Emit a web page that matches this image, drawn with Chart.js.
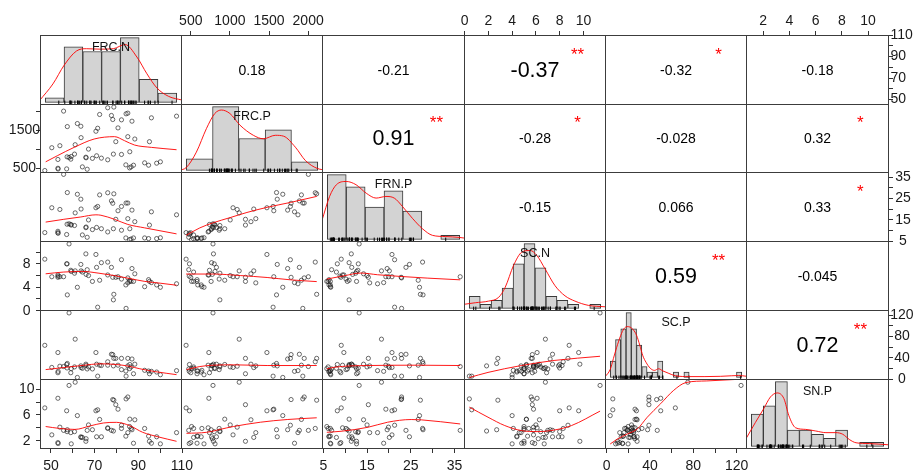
<!DOCTYPE html>
<html><head><meta charset="utf-8">
<script src="https://cdn.jsdelivr.net/npm/chart.js@4.4.1/dist/chart.umd.min.js"></script>
<style>
html,body{margin:0;padding:0;background:#fff;overflow:hidden;}
#wrap{position:relative;width:914px;height:471px;overflow:hidden;background:#fff;}
#wrap canvas{position:absolute;}
</style></head><body><div id="wrap"></div>
<script>
// ================= DATA =================
const VAR_NAMES = ['FRC.N','FRC.P','FRN.P','SC.N','SC.P','SN.P'];

const FRC_N = [47.2,50.4,53.2,53.2,53.3,54.1,55.8,57.2,57.5,58.3,59.1,59.3,60.8,61.1,62.1,63.7,63.8,64.4,66.0,66.1,66.6,67.2,69.0,70.6,70.9,71.4,72.3,73.1,76.0,76.0,77.7,78.3,78.6,78.8,79.7,80.7,82.3,82.3,84.3,84.4,85.2,85.2,86.0,86.1,86.7,87.1,87.8,88.4,92.9,94.7,95.1,96.0,98.4,100.1,107.5,57.4];
const FRC_P = [440,1040,731,500,480,1093,2003,483,1596,784,739,810,872,1119,1676,1605,1305,536,790,775,474,1004,760,1473,828,1552,1914,766,2091,722,1888,1782,872,2109,1199,1561,1773,863,589,1932,1950,1331,510,934,536,1738,580,1269,642,580,1199,1826,633,669,1870,800];
const FRN_P = [9.1,20.7,9.7,9.0,8.8,19.9,36.3,8.2,27.8,13.2,12.9,12.6,12.4,18.3,27.0,24.7,20.1,8.0,11.4,11.7,6.9,15.0,10.5,20.7,11.5,21.3,26.7,10.9,27.7,9.4,23.9,22.8,10.9,27.2,15.3,19.3,21.3,10.2,6.6,22.9,22.9,15.6,5.8,10.9,6.1,19.6,6.6,14.2,6.6,6.3,12.6,18.8,6.3,6.7,17.4,13.0];
const SC_N  = [8.8,5.8,6.1,5.7,5.9,5.8,5.8,8.0,2.7,11.4,6.9,6.7,6.4,6.8,4.0,7.9,6.8,6.6,9.7,6.2,7.0,6.0,5.0,9.6,7.4,0.6,5.2,8.2,8.3,6.1,7.4,5.7,1.85,2.8,5.7,5.8,8.7,5.4,4.4,0.4,5.6,4.75,5.0,5.2,5.0,7.2,5.0,6.3,4.1,5.3,5.0,4.8,4.4,4.0,4.6,8.0];
const SC_P  = [63.4,22.0,49.9,12.1,14.7,24.3,23.7,27.5,29.4,124,12.1,19.8,23.0,74.9,3.3,24.9,21.7,20.4,28.1,26.0,19.2,23.0,19.2,49.9,28.1,5.7,26.2,25.6,32.6,26.2,46.7,46.1,24.9,39.0,39.0,26.2,39.0,17.9,15.3,5.7,39.0,24.9,19.8,27.5,23.0,37.8,10.2,28.1,16.6,15.3,10.2,14.7,13.4,8.3,16.0,21.0];
const SN_P  = [7.1,2.9,8.6,1.7,1.55,4.1,3.6,6.65,3.7,10.6,3.25,1.5,3.4,11.1,5.9,2.6,2.5,2.5,1.9,2.3,3.6,4.45,3.7,6.65,2.6,6.8,5.3,2.6,3.9,4.0,3.6,8.4,3.5,8.3,7.6,6.9,4.4,3.9,2.7,8.5,8.8,3.25,4.2,5.35,3.9,3.7,1.6,5.25,3.9,2.7,1.9,1.6,2.6,1.5,3.25,3.4];
const DATA = [FRC_N, FRC_P, FRN_P, SC_N, SC_P, SN_P];

// axis ranges of each variable (as in the panels)
const RANGE_FRC_N = [45, 110];
const RANGE_FRC_P = [375, 2190];
const RANGE_FRN_P = [4.7, 37.4];
const RANGE_SC_N  = [-0.05, 11.9];
const RANGE_SC_P  = [-1.5, 129.5];
const RANGE_SN_P  = [0.7, 11.6];
const RANGES = [RANGE_FRC_N, RANGE_FRC_P, RANGE_FRN_P, RANGE_SC_N, RANGE_SC_P, RANGE_SN_P];

// histograms (breaks + counts) on the diagonal
const BREAKS_FRC_N = [40,50,60,70,80,90,100,110];
const COUNTS_FRC_N = [1,12,11,11,14,5,2];
const BREAKS_FRC_P = [0,500,1000,1500,2000,2500];
const COUNTS_FRC_P = [4,22,11,14,3];
const BREAKS_FRN_P = [5,10,15,20,25,30,35,40];
const COUNTS_FRN_P = [16,13,8,12,7,0,1];
const BREAKS_SC_N  = [0,1,2,3,4,5,6,7,8,9,10,11,12];
const COUNTS_SC_N  = [3,1,2,5,11,16,10,3,2,1,0,1];
const BREAKS_SC_P  = [0,5,10,15,20,25,30,35,40,45,50,55,60,65,70,75,80,85,90,95,100,105,110,115,120,125];
const COUNTS_SC_P  = [3,7,9,12,9,6,2,1,1,3,0,0,1,0,1,0,0,0,0,0,0,0,0,0,1];
const BREAKS_SN_P  = [1,2,3,4,5,6,7,8,9,10,11,12];
const COUNTS_SN_P  = [8,10,16,4,4,3,2,4,0,1,1];
const BREAKS = [BREAKS_FRC_N, BREAKS_FRC_P, BREAKS_FRN_P, BREAKS_SC_N, BREAKS_SC_P, BREAKS_SN_P];
const COUNTS = [COUNTS_FRC_N, COUNTS_FRC_P, COUNTS_FRN_P, COUNTS_SC_N, COUNTS_SC_P, COUNTS_SN_P];

// density curves (in count units)
const DENS_FRC_N_X = [36.9,44.1,50.0,56.6,62.0,69.1,76.2,82.5,88.8,94.1,99.5,105.7,112.9];
const DENS_FRC_N_Y = [0.37,4.0,8.0,11.1,11.6,11.5,11.6,12.5,9.8,6.2,3.1,1.3,0.5];
const DENS_FRC_P_X = [-128,0,192,383,542,670,830,1021,1276,1468,1692,1851,2075,2266,2490,2670];
const DENS_FRC_P_Y = [0.05,1.0,6.3,14.4,19.6,20.8,19.6,15.6,12.1,10.9,12.1,11.8,8.0,3.4,0.7,0.1];
const DENS_FRN_P_X = [3.6,5.6,7.4,10.0,12.6,15.3,17.9,20.5,22.7,24.9,27.5,30.2,32.8,36.3,39.8,41.5];
const DENS_FRN_P_Y = [4.7,10.6,13.5,14.3,13.5,11.4,10.2,10.6,10.2,8.1,5.2,2.6,1.0,0.7,0.5,0.3];
const DENS_SC_N_X  = [-0.5,0.55,1.76,2.67,3.28,4.04,4.8,5.56,6.16,6.92,7.83,8.74,9.65,10.87,12.4];
const DENS_SC_N_Y  = [1.0,1.4,1.8,2.7,5.2,10.6,13.9,14.3,13.1,9.75,5.6,3.1,1.8,0.75,0.4];
const DENS_SC_P_X  = [-5,0,3,6,10,13,16,19,22,25,28,31,34,38,42,46,50,55,62,75,90,105,115,122,130];
const DENS_SC_P_Y  = [0.1,1.5,3.5,5.5,7.8,9.0,9.4,9.3,8.8,7.8,6.0,4.0,2.8,1.7,1.3,1.6,1.2,0.8,0.3,0.15,0.15,0.2,0.3,0.35,0.2];
const DENS_SN_P_X  = [0.6,1.34,2.03,2.59,3.15,3.71,4.12,4.68,5.52,6.36,7.2,8.03,8.6,9.15,9.7,10.8,12.4];
const DENS_SN_P_Y  = [2.1,5.9,9.3,12.2,13.2,11.8,7.6,4.6,4.2,3.8,3.4,3.4,3.0,1.7,0.9,0.7,0.4];
const DENS_X = [DENS_FRC_N_X, DENS_FRC_P_X, DENS_FRN_P_X, DENS_SC_N_X, DENS_SC_P_X, DENS_SN_P_X];
const DENS_Y = [DENS_FRC_N_Y, DENS_FRC_P_Y, DENS_FRN_P_Y, DENS_SC_N_Y, DENS_SC_P_Y, DENS_SN_P_Y];

// smoothed (loess) red lines of the lower panels, key = "row_col"
const LOESS_X = {
  '1_0': [47.6,52.9,60.6,69.8,79.1,83.7,88.3,96.0,107.5],
  '2_0': [47.6,55.9,63.7,70.6,72.9,79.1,85.2,92.9,107.5],
  '3_0': [47.6,55.9,64.6,72,79,86,93,100,107.5],
  '4_0': [47.6,57,65,72.3,80,86,90.7,98,107.5],
  '5_0': [47.6,54,61,68,74,80,86,92,99,107.5],
  '2_1': [440,616,788,1003,1218,1476,1776,2110],
  '3_1': [440,788,1132,1476,1776,2110],
  '4_1': [445,616,788,1045,1476,2110],
  '5_1': [445,702,960,1045,1389,1733,2110],
  '3_2': [5.8,9.8,13.6,17.4,22.8,28.9,36.3],
  '4_2': [5.8,7.5,15.2,26.6,36.3],
  '5_2': [5.8,9.05,15.2,19.7,25.1,27.4,36.3],
  '4_3': [0.4,1.97,4.78,7.6,11.4],
  '5_3': [0.4,1.97,3.38,4.78,6.19,7.6,9.0,11.4],
  '5_4': [3.3,10.1,19.2,28.4,37.5,49.8,61.9,73.2,92.4,124]
};
const LOESS_Y = {
  '1_0': [669,828,1049,1269,1331,1225,1110,1049,987],
  '2_0': [14.0,15.3,16.4,17.4,17.2,15.3,12.9,11.3,8.5],
  '3_0': [6.3,6.6,6.7,6.4,6.0,5.5,5.0,4.7,4.35],
  '4_0': [18,22.3,26,28.8,27.5,24,19.5,14,8.5],
  '5_0': [4.2,3.9,3.75,4.3,4.75,4.85,4.35,3.3,2.6,1.9],
  '2_1': [7.8,11.3,13.7,16.1,18.5,20.9,23.2,26.0],
  '3_1': [6.26,6.26,6.0,5.67,5.27,4.97],
  '4_1': [17.9,23.7,26.2,26.9,25.6,25.6],
  '5_1': [3.14,3.3,3.99,4.2,4.87,5.29,5.56],
  '3_2': [5.4,5.97,6.43,6.14,5.84,5.56,5.27],
  '4_2': [19.2,22.3,25.6,26.2,25.6],
  '5_2': [3.3,3.46,4.08,4.87,5.29,5.24,4.6],
  '4_3': [3.1,12.7,25.6,35.2,42.9],
  '5_3': [7.22,5.65,4.35,3.57,3.41,3.67,4.35,6.6],
  '5_4': [1.48,2.26,3.05,3.83,5.65,7.75,9.84,11.05,11.3,11.57]
};

// correlations (upper panels) and significance stars
const CORR_ROW1 = ['0.18','-0.21','-0.37','-0.32','-0.18'];
const CORR_ROW2 = ['0.91','-0.28','-0.028','0.32'];
const CORR_ROW3 = ['-0.15','0.066','0.33'];
const CORR_ROW4 = ['0.59','-0.045'];
const CORR_ROW5 = ['0.72'];
const STARS_ROW1 = ['','','**','*',''];
const STARS_ROW2 = ['**','*','','*'];
const STARS_ROW3 = ['','','*'];
const STARS_ROW4 = ['**',''];
const STARS_ROW5 = ['**'];
const CORR = [CORR_ROW1, CORR_ROW2, CORR_ROW3, CORR_ROW4, CORR_ROW5];
const STARS = [STARS_ROW1, STARS_ROW2, STARS_ROW3, STARS_ROW4, STARS_ROW5];

// tick values and labels
const TICKS_FRC_N = [50,60,70,80,90,100,110];   const LABELS_FRC_N = [50,70,90,110];
const TICKS_FRC_P = [500,1000,1500,2000];       const LABELS_FRC_P_TOP = [500,1000,1500,2000]; const LABELS_FRC_P_LEFT = [500,1500];
const TICKS_FRN_P = [5,10,15,20,25,30,35];      const LABELS_FRN_P = [5,15,25,35];
const TICKS_SC_N  = [0,2,4,6,8,10];             const LABELS_SC_N_TOP = [0,2,4,6,8,10]; const LABELS_SC_N_LEFT = [0,4,8];
const TICKS_SC_P  = [0,20,40,60,80,100,120];    const LABELS_SC_P = [0,40,80,120];
const TICKS_SN_P  = [2,4,6,8,10];               const LABELS_SN_P_TOP = [2,4,6,8,10]; const LABELS_SN_P_LEFT = [2,6,10];

// ================= LAYOUT / STYLE =================
const X = [40,181,322,464,605,746,888];
const Y = [35,104,172,241,310,379,448];
const FONT = '"Liberation Sans", Arial, Helvetica, sans-serif';
Chart.defaults.font.family = FONT;

const TOP_AXES    = {1:{ticks:TICKS_FRC_P, labels:LABELS_FRC_P_TOP, pad:1}, 3:{ticks:TICKS_SC_N, labels:LABELS_SC_N_TOP, pad:1}, 5:{ticks:TICKS_SN_P, labels:LABELS_SN_P_TOP, pad:1}};
const BOTTOM_AXES = {0:{ticks:TICKS_FRC_N, labels:LABELS_FRC_N, pad:5}, 2:{ticks:TICKS_FRN_P, labels:LABELS_FRN_P, pad:5}, 4:{ticks:TICKS_SC_P, labels:LABELS_SC_P, pad:5}};
const LEFT_AXES   = {1:{ticks:TICKS_FRC_P, labels:LABELS_FRC_P_LEFT, pad:-4, cross:'center'}, 3:{ticks:TICKS_SC_N, labels:LABELS_SC_N_LEFT, pad:5.4, cross:'center'}, 5:{ticks:TICKS_SN_P, labels:LABELS_SN_P_LEFT, pad:1.5, cross:'center'}};
const RIGHT_AXES  = {0:{ticks:TICKS_FRC_N, labels:LABELS_FRC_N, pad:-2.5, cross:'near'}, 2:{ticks:TICKS_FRN_P, labels:LABELS_FRN_P, pad:2.2, cross:'center'}, 4:{ticks:TICKS_SC_P, labels:LABELS_SC_P, pad:-2.7, cross:'center'}};

function zeroFit(s){ if (s.isHorizontal()) s.height = 0; else s.width = 0; s.paddingLeft=0; s.paddingRight=0; s.paddingTop=0; s.paddingBottom=0; }
function hiddenScale(r){
  return {type:'linear', min:r[0], max:r[1], offset:false, display:false,
    grid:{display:false, offset:false}, border:{display:false}, ticks:{display:false}, afterFit: zeroFit};
}
function axisScale(r, ax, pos, size){
  return {type:'linear', min:r[0], max:r[1], offset:false, position:pos, display:true,
    grid:{display:true, drawOnChartArea:false, drawTicks:true, tickLength:4, color:'#333', tickColor:'#333', lineWidth:1, offset:false},
    border:{display:false},
    ticks:{autoSkip:false, maxRotation:0, minRotation:0, color:'#1a1a1a', font:{family:FONT, size:14},
      padding:ax.pad, crossAlign:ax.cross || 'near',
      callback:(v)=> ax.labels.indexOf(v) >= 0 ? String(v) : ''},
    afterBuildTicks: s => { s.ticks = ax.ticks.map(v => ({value:v})); },
    afterFit: s => { if (s.isHorizontal()) s.height = size; else s.width = size;
      s.paddingLeft=0; s.paddingRight=0; s.paddingTop=0; s.paddingBottom=0; }
  };
}

const panelPlugin = {
  id: 'panel',
  afterDraw(chart, args, o) {
    const ctx = chart.ctx, a = chart.chartArea;
    const L = Math.round(a.left), T = Math.round(a.top);
    const W = Math.round(a.right) - L, H = Math.round(a.bottom) - T;
    ctx.save();
    if (o.label) {
      ctx.font = '12.5px ' + FONT; ctx.fillStyle = '#111';
      ctx.textAlign = 'center'; ctx.textBaseline = 'middle';
      ctx.fillText(o.label, L + W/2, T + 13);
    }
    if (o.text) {
      ctx.font = o.size + 'px ' + FONT; ctx.fillStyle = '#000';
      ctx.textAlign = 'center'; ctx.textBaseline = 'middle';
      ctx.fillText(o.text, L + W/2, T + H/2 + 1);
    }
    if (o.stars) {
      ctx.font = '17px ' + FONT; ctx.fillStyle = '#ff0000';
      ctx.textAlign = 'center'; ctx.textBaseline = 'alphabetic';
      ctx.fillText(o.stars, L + 0.8*W, T + 0.216*H + 9.5);
    }
    ctx.strokeStyle = '#3c3c3c'; ctx.lineWidth = 1;
    ctx.strokeRect(L + 0.5, T + 0.5, W - 1, H - 1);
    ctx.restore();
  }
};

const wrap = document.getElementById('wrap');
const pts = (xs, ys) => xs.map((x, i) => ({x, y: ys[i]}));

for (let r = 0; r < 6; r++) {
  for (let c = 0; c < 6; c++) {
    const axT = r === 0 ? TOP_AXES[c] : null;
    const axB = r === 5 ? BOTTOM_AXES[c] : null;
    const axL = c === 0 ? LEFT_AXES[r] : null;
    const axR = c === 5 ? RIGHT_AXES[r] : null;
    const w = X[c+1] - X[c] + 1, h = Y[r+1] - Y[r] + 1;
    const horiz = !!(axT || axB), vert = !!(axL || axR);
    const EL = axL ? 40 : (horiz ? 22 : 0);
    const ER = axR ? 26 : (horiz ? 22 : 0);
    const ET = axT ? 35 : (vert ? 10 : 0);
    const EB = axB ? 23 : (vert ? 10 : 0);
    const cw = w + EL + ER, ch = h + ET + EB;
    const cv = document.createElement('canvas');
    cv.width = cw; cv.height = ch;
    cv.style.left = (X[c] - EL) + 'px'; cv.style.top = (Y[r] - ET) + 'px';
    cv.style.width = cw + 'px'; cv.style.height = ch + 'px';
    wrap.appendChild(cv);

    let xr, yr, type, datasets = [], plug = {};
    if (r === c) {
      const br = BREAKS[c], cnt = COUNTS[c];
      const span = br[br.length-1] - br[0];
      xr = [br[0] - 0.04*span, br[br.length-1] + 0.04*span];
      const m = Math.max.apply(null, cnt);
      yr = [-0.04*m, 1.04*m];
      type = 'bar';
      const centers = cnt.map((v, i) => (br[i] + br[i+1]) / 2);
      datasets = [
        {type:'line', data: pts(DENS_X[c], DENS_Y[c]), borderColor:'rgba(255,0,0,0.9)', borderWidth:1,
         pointRadius:0, tension:0.4, cubicInterpolationMode:'monotone', fill:false},
        {type:'scatter', data: DATA[c].map(v => ({x:v, y:0})), pointStyle:'line', rotation:90,
         pointRadius:1.8, pointBorderWidth:1, pointBorderColor:'#000', pointBackgroundColor:'#000'},
        {type:'bar', data: centers.map((x, i) => ({x, y:cnt[i]})), backgroundColor:'#d3d3d3',
         borderColor:'#3a3a3a', borderWidth:1, borderSkipped:false, barPercentage:1, categoryPercentage:1}
      ];
      plug = {label: VAR_NAMES[c]};
    } else {
      xr = RANGES[c]; yr = RANGES[r]; type = 'scatter';
      if (r > c) {
        const key = r + '_' + c;
        datasets = [
          {type:'line', data: pts(LOESS_X[key], LOESS_Y[key]), borderColor:'rgba(255,0,0,0.9)', borderWidth:1,
           pointRadius:0, tension:0.4, cubicInterpolationMode:'monotone', fill:false},
          {type:'scatter', data: DATA[c].map((v, i) => ({x:v, y:DATA[r][i]})), pointRadius:2.1,
           pointBorderWidth:0.8, pointBorderColor:'rgba(25,25,25,0.8)', pointBackgroundColor:'rgba(0,0,0,0)'}
        ];
      } else {
        const txt = CORR[r][c - r - 1], st = STARS[r][c - r - 1];
        plug = {text: txt, size: st === '**' ? 21.5 : 14, stars: st};
      }
    }

    const scales = {
      x: axT ? axisScale(xr, axT, 'top', ET) : (axB ? axisScale(xr, axB, 'bottom', EB) : hiddenScale(xr)),
      y: axL ? axisScale(yr, axL, 'left', EL) : (axR ? axisScale(yr, axR, 'right', ER) : hiddenScale(yr))
    };

    new Chart(cv, {
      type: type,
      data: {datasets: datasets},
      options: {
        responsive:false, animation:false, devicePixelRatio:1, events:[],
        layout:{autoPadding:false, padding:{left: axL ? 0 : EL, right: axR ? 0 : ER, top: axT ? 0 : ET, bottom: axB ? 0 : EB}},
        plugins:{legend:{display:false}, tooltip:{enabled:false}, title:{display:false}, panel: plug},
        scales: scales
      },
      plugins:[panelPlugin]
    });
  }
}
</script>
</body></html>
